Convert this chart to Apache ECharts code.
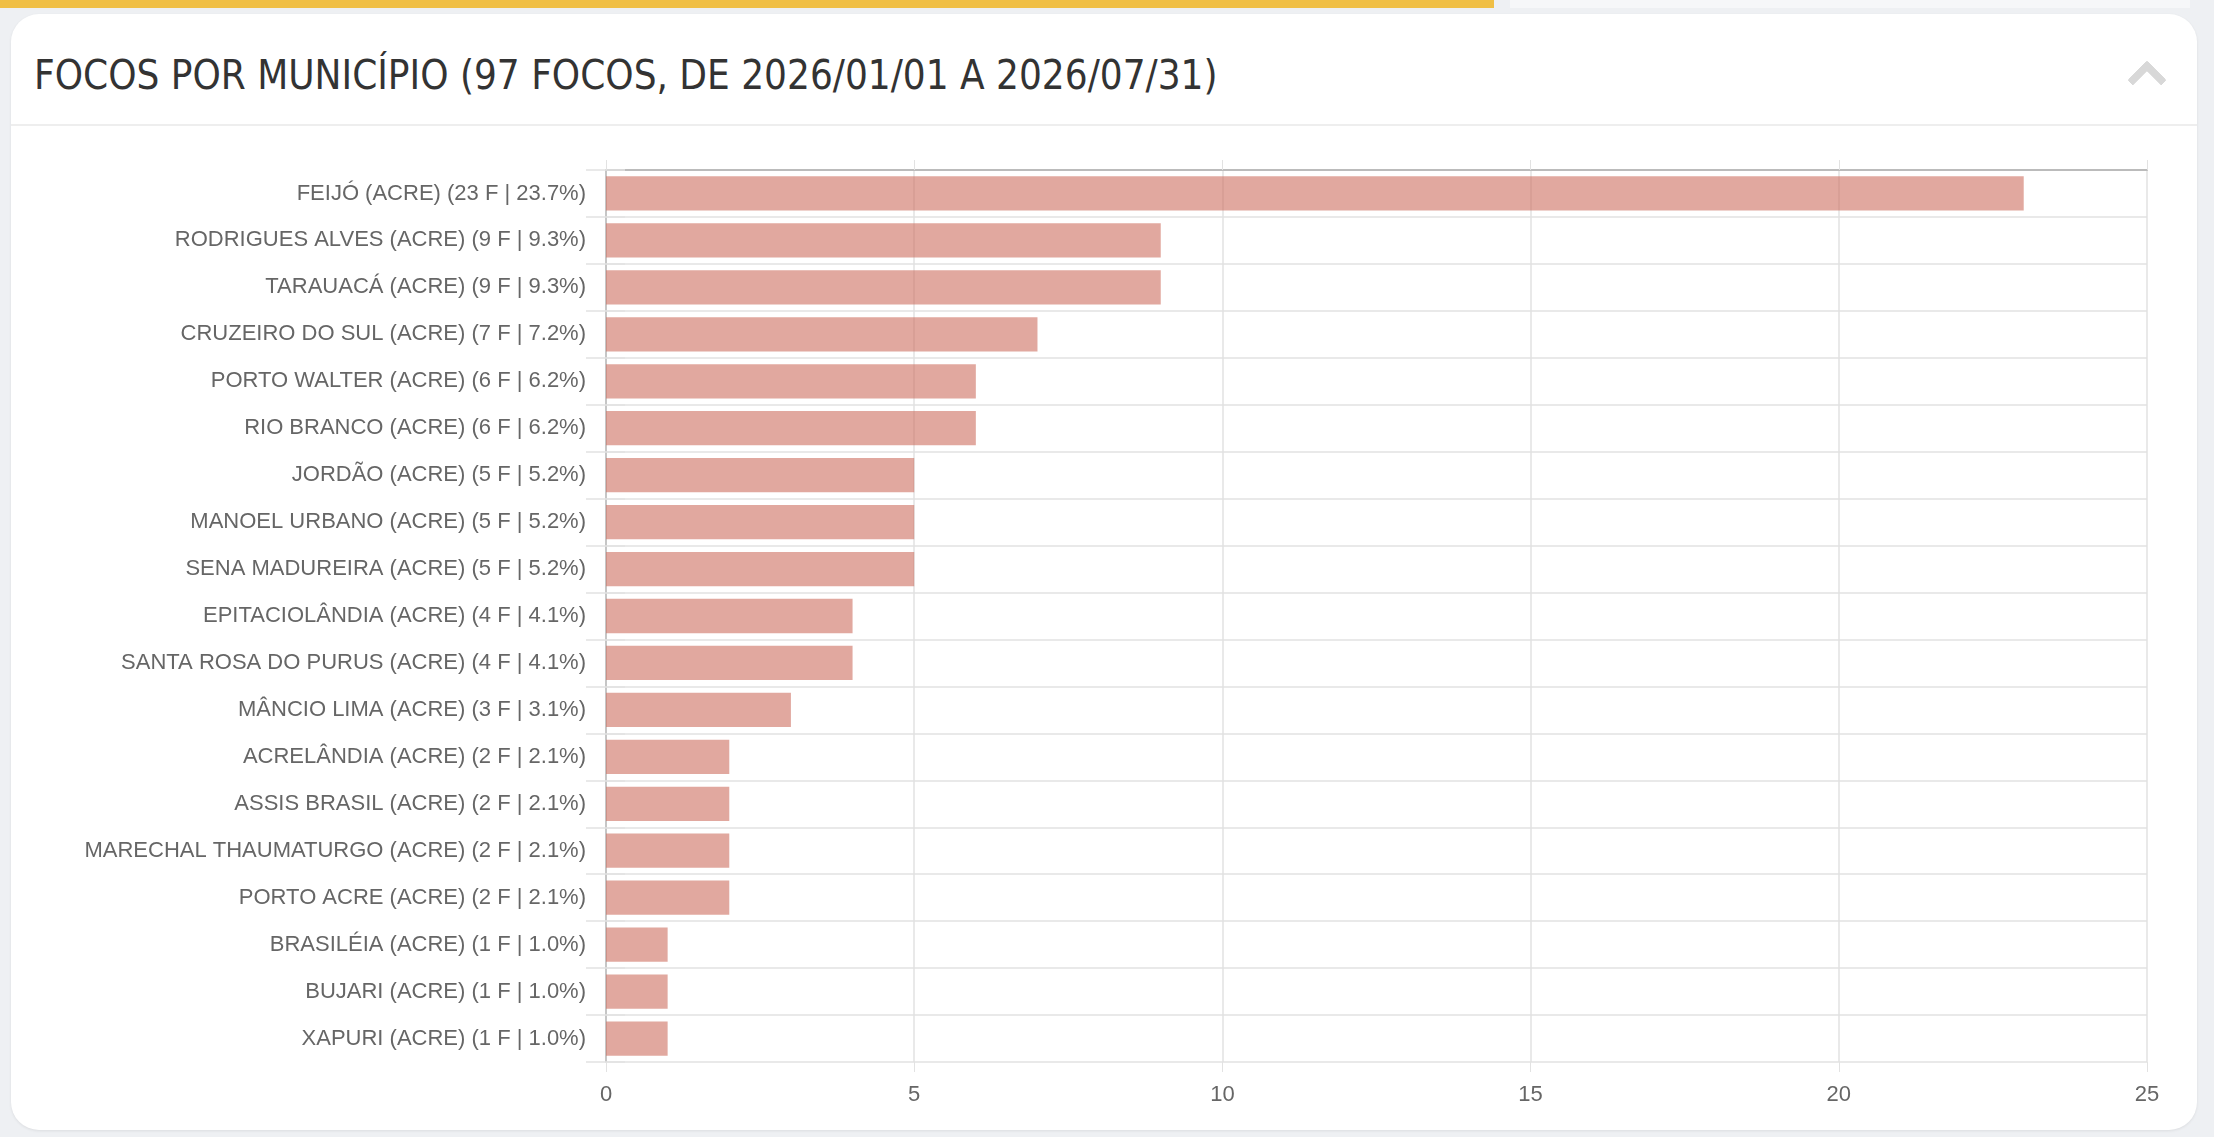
<!DOCTYPE html>
<html>
<head>
    <meta charset="utf-8">
    <title>Focos por município</title>
    <script src="https://cdn.jsdelivr.net/npm/echarts@6/dist/echarts.min.js"></script>
    <style>
        *{ margin: 0; padding: 0; }
        html,body{ width: 100%; height: 100%; overflow: hidden; background: #eef0f3; }
        #topbar{ position: absolute; left: 0; top: 0; width: 1494px; height: 8px; background: #f0bf45; }
        #toptrack{ position: absolute; left: 1510px; top: 0; width: 680px; height: 8px; background: #f6f7f9; }
        #card{
            position: absolute; left: 11px; top: 14px; width: 2186px; height: 1116px;
            background: #fff; border-radius: 28px; box-shadow: 0 1px 3px rgba(0,0,0,0.08);
        }
        #title{
            position: absolute; left: 34px; top: 52px;
            font-family: "Liberation Sans Narrow", "DejaVu Sans Condensed", sans-serif;
            font-size: 40px; color: #333; white-space: nowrap;
        }
        #sep{ position: absolute; left: 11px; top: 124px; width: 2186px; height: 2px; background: #eeeeee; }
        #chev{
            position: absolute; left: 2133px; top: 66px; width: 20px; height: 20px;
            border-left: 8px solid #d8d8d8; border-top: 8px solid #d8d8d8;
            transform: rotate(45deg); border-radius: 2px;
        }
        #main{ position: absolute; left: 0; top: 0; width: 2214px; height: 1137px; }
    </style>
</head>
<body>
<div id="topbar"></div>
<div id="toptrack"></div>
<div id="card"></div>
<div id="title">FOCOS POR MUNICÍPIO (97 FOCOS, DE 2026/01/01 A 2026/07/31)</div>
<div id="sep"></div>
<div id="chev"></div>
<div id="main"></div>
<script>
    // municípios e focos
    let municipios = ['FEIJÓ', 'RODRIGUES ALVES', 'TARAUACÁ', 'CRUZEIRO DO SUL', 'PORTO WALTER',
        'RIO BRANCO', 'JORDÃO', 'MANOEL URBANO', 'SENA MADUREIRA', 'EPITACIOLÂNDIA',
        'SANTA ROSA DO PURUS', 'MÂNCIO LIMA', 'ACRELÂNDIA', 'ASSIS BRASIL',
        'MARECHAL THAUMATURGO', 'PORTO ACRE', 'BRASILÉIA', 'BUJARI', 'XAPURI'];
    let focos = [23, 9, 9, 7, 6, 6, 5, 5, 5, 4, 4, 3, 2, 2, 2, 2, 1, 1, 1];
    let percentuais = ['23.7', '9.3', '9.3', '7.2', '6.2', '6.2', '5.2', '5.2', '5.2', '4.1',
        '4.1', '3.1', '2.1', '2.1', '2.1', '2.1', '1.0', '1.0', '1.0'];
    let xTicks = [0, 5, 10, 15, 20, 25];

    let categories = municipios.map((m, i) => `${m} (ACRE) (${focos[i]} F | ${percentuais[i]}%)`);

    let myCharts = echarts.init(document.getElementById('main'));
    let gridColor = '#e2e2e2';
    let font = 'Liberation Sans, Arial, sans-serif';
    let option = {
        animation: false,
        grid: { left: 606, top: 170, right: 67, bottom: 75 },
        xAxis: [{
            type: 'value', min: xTicks[0], max: xTicks[xTicks.length - 1], interval: 5,
            axisLine: { show: false },
            axisTick: { show: true, length: 10, lineStyle: { color: gridColor } },
            axisLabel: { color: '#666', fontSize: 22, fontFamily: font, margin: 22 },
            splitLine: { lineStyle: { color: gridColor, width: 1.5 } }
        }, {
            type: 'value', position: 'top', min: 0, max: 25, interval: 5,
            axisLine: { show: true, lineStyle: { color: '#bbb', width: 2 } },
            axisTick: { show: true, length: 10, lineStyle: { color: gridColor } },
            axisLabel: { show: false }, splitLine: { show: false }
        }],
        yAxis: [{
            type: 'category', data: categories, inverse: true,
            axisLine: { show: true, lineStyle: { color: '#bbb', width: 1.5 } },
            axisTick: { show: true, length: 20, lineStyle: { color: gridColor, width: 1.5 } },
            axisLabel: { color: '#666', fontSize: 22, fontFamily: font, margin: 20 },
            splitLine: { show: true, lineStyle: { color: gridColor, width: 1.5 } }
        }, {
            type: 'category', data: categories, inverse: true, position: 'right',
            axisLine: { show: false },
            axisTick: { show: true, length: 19, lineStyle: { color: gridColor, width: 1.5 } },
            axisLabel: { show: false }, splitLine: { show: false }
        }],
        series: [{
            type: 'bar', data: focos, barCategoryGap: '27%',
            itemStyle: { color: 'rgba(205,110,95,0.6)' }
        }]
    };
    myCharts.setOption(option);
</script>
</body>
</html>
